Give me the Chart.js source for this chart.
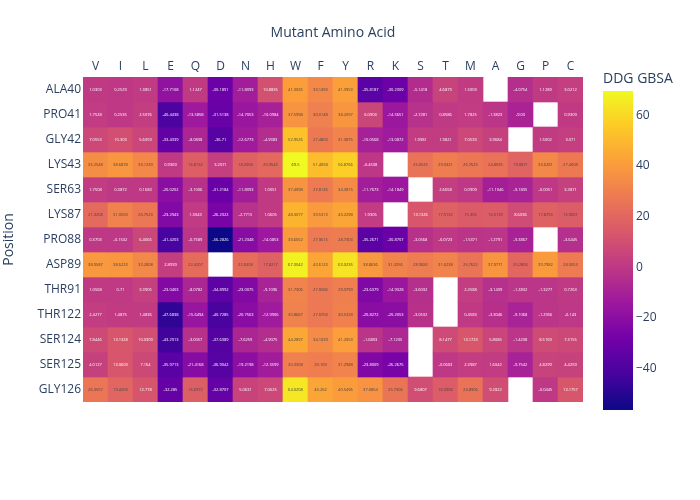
<!DOCTYPE html>
<html><head><meta charset="utf-8">
<script src="https://cdn.jsdelivr.net/npm/chart.js@4"></script>
<style>html,body{margin:0;padding:0;background:#fff}canvas{display:block}</style>
</head><body>
<canvas id="c" width="700" height="500"></canvas>
<script>
const aminoAcids = ['V','I','L','E','Q','D','N','H','W','F','Y','R','K','S','T','M','A','G','P','C'];
const positions = ['ALA40','PRO41','GLY42','LYS43','SER63','LYS87','PRO88','ASP89','THR91','THR122','SER124','SER125','GLY126'];

const ALA40  = [1.0303, 0.2529, 1.3851, -17.7108, 1.1247, -30.1891, -11.8093, 10.8835, 41.3035, 33.1493, 41.3953, -35.8187, -30.2309, -5.1418, 4.6879, 1.5003, null, -4.0754, 1.1289, 3.0212];
const PRO41  = [1.7528, 0.2535, 2.5076, -40.4438, -13.5858, -31.5138, -14.7053, -10.0984, 37.5998, 30.0148, 38.2097, 6.0903, -14.5651, -2.7281, 0.8586, 1.7825, -1.3823, -9.03, null, 0.9309];
const GLY42  = [7.0553, 10.303, 5.6059, -33.4339, -8.0838, -36.71, -12.6773, -4.9383, 52.9526, 27.4803, 31.3875, -10.0568, -13.0872, 1.9981, 1.9821, 7.0533, 3.9684, null, 1.5002, 3.071];
const LYS43  = [35.2548, 38.6878, 33.1239, 0.9369, 16.8132, 3.2071, 18.2058, 20.9543, 69.5, 51.4058, 56.8766, -0.4538, null, 25.0525, 29.0321, 26.7625, 24.8035, 19.0871, 33.6281, 27.4008];
const SER63  = [1.7508, 0.3872, 0.1683, -20.0202, -3.1006, -31.2184, -11.8093, 1.0051, 37.4098, 27.8126, 34.3815, -11.7673, -14.1849, null, 2.6658, 0.0909, -11.1046, -9.1835, -0.0051, 3.3871];
const LYS87  = [21.3208, 31.0503, 26.7523, -23.2943, 1.3043, -26.2322, -2.7715, 1.0605, 48.3077, 39.5313, 43.2298, 1.9305, null, 13.1326, 17.9132, 15.305, 16.0133, 8.6036, 17.8753, 15.9001];
const PRO88  = [0.3703, -0.1532, 6.4065, -41.4203, -0.7589, -56.2826, -21.2348, -14.0853, 39.6052, 27.9615, 28.7303, -35.2671, -30.8707, -3.0568, -0.0723, -1.5371, -1.2791, -9.3867, null, -3.6445];
const ASP89  = [38.9587, 38.6223, 33.2808, 2.8939, 22.4207, null, 22.6308, 17.8217, 67.3042, 43.6123, 63.0235, 38.8636, 31.3256, 28.9682, 31.6238, 25.7622, 37.9771, 20.2806, 39.7982, 28.3053];
const THR91  = [1.0568, 0.71, 3.3905, -23.0403, -8.0782, -34.8992, -23.0075, -9.1096, 31.7306, 27.0566, 29.3799, -23.6379, -14.9328, -3.6032, null, 2.2588, -3.1439, -1.2832, -1.3277, 0.7263];
const THR122 = [2.4277, 1.4875, 1.4836, -47.6838, -15.6494, -40.7285, -20.7563, -12.9906, 30.8667, 27.0703, 30.5328, -20.8272, -20.2053, -3.0532, null, 0.4583, -3.3046, -9.1068, -1.2956, -0.143];
const SER124 = [7.8446, 13.1328, 10.0309, -43.2913, -3.0057, -37.6389, -7.6259, -4.9075, 44.2897, 34.1029, 41.2053, -1.6803, -7.1235, null, 8.1477, 13.1723, 5.8085, -1.4238, 8.5169, 7.3155];
const SER125 = [4.0127, 13.0603, 7.164, -35.9713, -21.4168, -36.9042, -19.2198, -12.3599, 30.3308, 29.169, 31.2988, -23.8009, -26.2675, null, -0.0603, 2.3987, 1.6042, -9.7542, 4.8299, 4.4259];
const GLY126 = [26.3557, 19.4203, 12.778, -32.285, 16.6972, -32.8707, 5.0631, 7.0625, 64.0208, 43.262, 40.5496, 37.0854, 25.7306, 9.6807, 16.0906, 24.8906, 9.2822, null, -0.0445, 13.1757];

const rowValues = [ALA40, PRO41, GLY42, LYS43, SER63, LYS87, PRO88, ASP89, THR91, THR122, SER124, SER125, GLY126];
const colorbarTicks = [60, 40, 20, 0, -20, -40];

const PLASMA = ['#0d0887','#46039f','#7201a8','#9c179e','#bd3786','#d8576b','#ed7953','#fb9f3a','#fdca26','#f0f921'];
const hexRgb = h => [parseInt(h.slice(1,3),16), parseInt(h.slice(3,5),16), parseInt(h.slice(5,7),16)];
const PL = PLASMA.map(hexRgb);
function plasmaRgb(t){
  t = Math.max(0, Math.min(1, t));
  const s = t * (PL.length - 1);
  const i = Math.min(PL.length - 2, Math.floor(s));
  const f = s - i;
  return PL[i].map((c,k) => Math.round(c + (PL[i+1][k] - c) * f));
}
const allVals = rowValues.flat().filter(v => v !== null);
const zmin = Math.min(...allVals), zmax = Math.max(...allVals);
const colorFor = v => { const c = plasmaRgb((v - zmin)/(zmax - zmin)); return `rgb(${c[0]},${c[1]},${c[2]})`; };
const isLight = v => { const c = plasmaRgb((v - zmin)/(zmax - zmin)); return (c[0]*299 + c[1]*587 + c[2]*114)/1000 >= 128; };

const datasets = rowValues.map((vals, r) => ({
  label: positions[r],
  data: vals.map(v => v === null ? null : [r - 0.5, r + 0.5]),
  backgroundColor: vals.map(v => v === null ? 'rgba(0,0,0,0)' : colorFor(v)),
  borderWidth: 0,
  grouped: false,
  barPercentage: 1,
  categoryPercentage: 1
}));

const FONT = '"Open Sans", "Liberation Sans", Arial, sans-serif';
const TXT = '#2a3f5f';

const cellText = {
  id: 'cellText',
  afterDatasetsDraw(chart){
    const ctx = chart.ctx;
    ctx.save();
    ctx.font = '4px ' + FONT;
    ctx.textAlign = 'center';
    ctx.textBaseline = 'middle';
    chart.data.datasets.forEach((ds, r) => {
      const meta = chart.getDatasetMeta(r);
      meta.data.forEach((el, j) => {
        const v = rowValues[r][j];
        if (v === null) return;
        ctx.fillStyle = isLight(v) ? '#444444' : '#ffffff';
        ctx.fillText(String(v), el.x, (el.y + el.base) / 2);
      });
    });
    ctx.restore();
  }
};

const decorations = {
  id: 'decorations',
  afterDraw(chart){
    const ctx = chart.ctx, a = chart.chartArea;
    ctx.save();
    ctx.fillStyle = TXT;
    ctx.textAlign = 'center';
    ctx.textBaseline = 'middle';
    ctx.font = '14px ' + FONT;
    ctx.fillText('Mutant Amino Acid', (a.left + a.right)/2, 33);
    ctx.save();
    ctx.translate(9, (a.top + a.bottom)/2);
    ctx.rotate(-Math.PI/2);
    ctx.fillText('Position', 0, 0);
    ctx.restore();
    // colorbar
    const cx = 603, cw = 30, ct = 91, cb = 410;
    const g = ctx.createLinearGradient(0, cb, 0, ct);
    PLASMA.forEach((c, i) => g.addColorStop(i/(PLASMA.length-1), c));
    ctx.fillStyle = g;
    ctx.fillRect(cx, ct, cw, cb - ct);
    ctx.fillStyle = TXT;
    ctx.textAlign = 'left';
    ctx.font = '14px ' + FONT;
    ctx.fillText('DDG GBSA', cx, 79);
    ctx.font = '12px ' + FONT;
    colorbarTicks.forEach(t => {
      const y = cb - (t - zmin)/(zmax - zmin) * (cb - ct);
      ctx.fillText(t < 0 ? '\u2212' + Math.abs(t) : String(t), cx + cw + 3, y);
    });
    ctx.restore();
  }
};

new Chart(document.getElementById('c'), {
  type: 'bar',
  data: { labels: aminoAcids, datasets },
  options: {
    responsive: false,
    animation: false,
    layout: { padding: { left: 0, top: 0, right: 117, bottom: 98 } },
    plugins: { legend: { display: false }, tooltip: { enabled: false } },
    scales: {
      x: {
        position: 'top',
        grid: { display: false, drawTicks: false },
        border: { display: false },
        ticks: { color: TXT, font: { family: FONT, size: 12 }, padding: 3, maxRotation: 0, autoSkip: false },
        afterFit(s){ s.height = 77; }
      },
      y: {
        type: 'linear',
        reverse: true,
        min: -0.5,
        max: 12.5,
        grid: { display: false, drawTicks: false },
        border: { display: false },
        afterBuildTicks(s){ s.ticks = positions.map((_, i) => ({ value: i })); },
        ticks: { color: TXT, font: { family: FONT, size: 12 }, padding: 2, autoSkip: false,
                 callback: v => positions[v] },
        afterFit(s){ s.width = 83; }
      }
    }
  },
  plugins: [cellText, decorations]
});
</script>
</body></html>
